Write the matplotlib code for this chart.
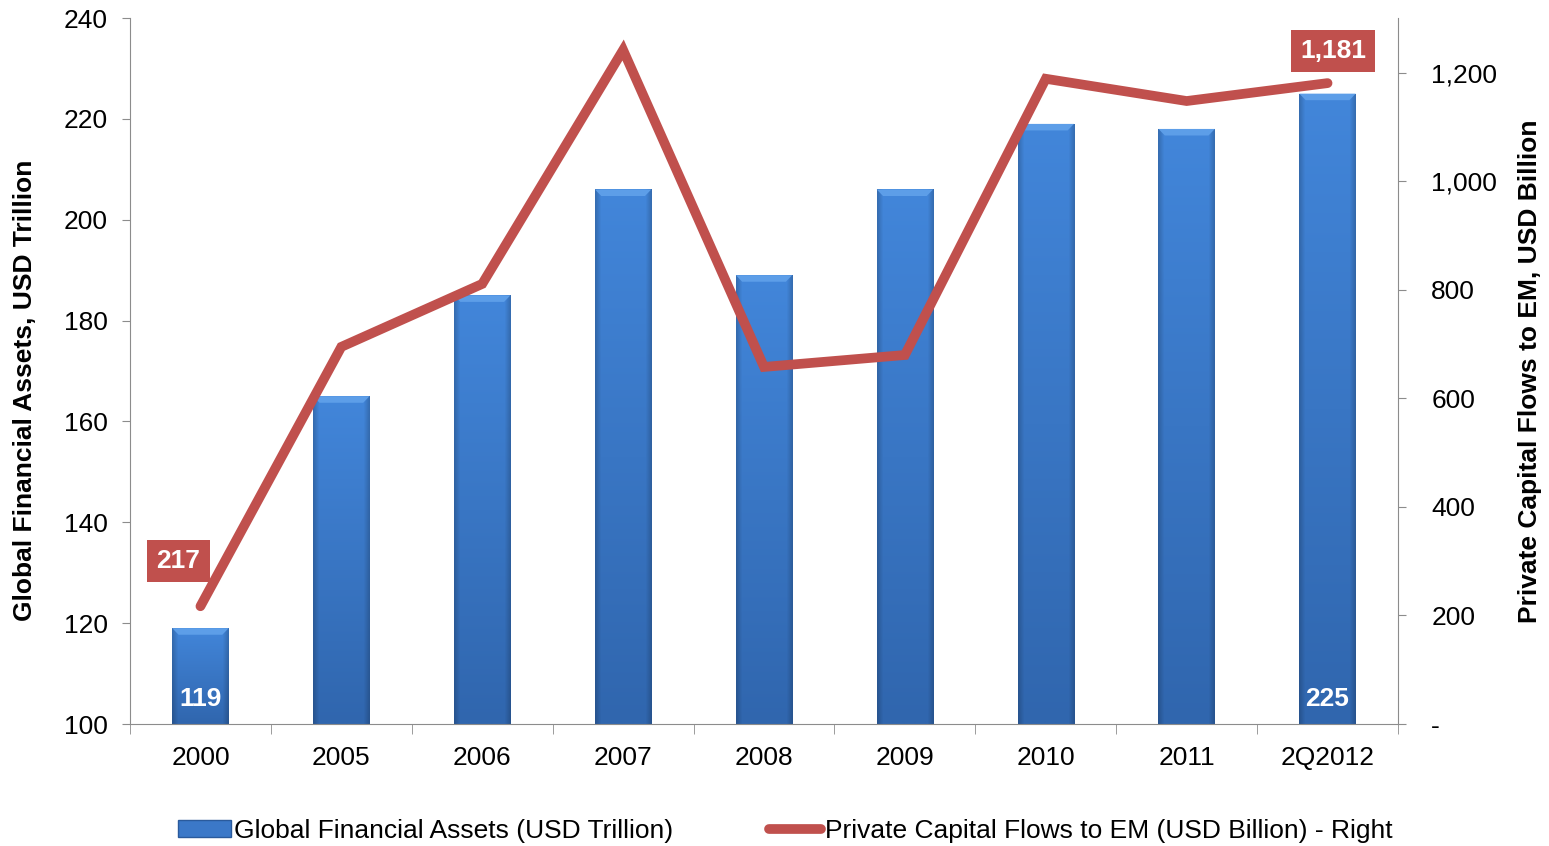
import numpy as np
import matplotlib
matplotlib.use("Agg")
import matplotlib.pyplot as plt
from matplotlib.patches import Rectangle, Polygon
from matplotlib.lines import Line2D
from matplotlib.ticker import FuncFormatter, FixedLocator

plt.rcParams['font.family'] = ['Liberation Sans', 'DejaVu Sans']

# Données
categories = ['2000', '2005', '2006', '2007', '2008', '2009', '2010', '2011', '2Q2012']
assets = [119, 165, 185, 206, 189, 206, 219, 218, 225]          # USD Trillion (gauche)
flows = [217, 695, 811, 1242, 658, 680, 1189, 1148, 1181]       # USD Billion (droite)

red = '#c0504d'
fs = 19
x = np.arange(len(categories))
w = 0.4

fig = plt.figure(figsize=(15.49, 8.46), dpi=100)
ax = fig.add_axes([130/1549, 1-724/846, (1398-130)/1549, (724-18)/846])
ax2 = ax.twinx()

# dégradé des barres (RGB)
top_c = np.array([0x42, 0x86, 0xda]) / 255
bot_c = np.array([0x30, 0x66, 0xae]) / 255
ny, nx = 100, 40
tv = np.linspace(0, 1, ny)[:, None]           # 0 bas -> 1 haut
col = top_c * tv[..., None] + bot_c * (1 - tv[..., None])
u = np.linspace(0, 1, nx)
edge = np.clip(1 - np.minimum(u, 1 - u) / 0.1, 0, 1) * 0.18
img = col * (1 - edge[None, :, None])

for xi, v in zip(x, assets):
    r = Rectangle((xi-w/2, 100), w, v-100, facecolor='#3b78c8', edgecolor='none', zorder=2)
    ax.add_patch(r)
    im = ax.imshow(img, aspect='auto', extent=(xi-w/2, xi+w/2, 100, v), origin='lower',
                   zorder=2.1, interpolation='bilinear')
    im.set_clip_path(r)
    # biseau du haut
    bx, by = 0.045, 1.3
    ax.add_patch(Polygon([(xi-w/2, v), (xi+w/2, v), (xi+w/2-bx, v-by), (xi-w/2+bx, v-by)],
                         closed=True, facecolor='#5d9ee8', edgecolor='none', zorder=2.2))
ax.set_xlim(-0.5, len(categories)-0.5)
ax.set_ylim(100, 240)
ax2.set_ylim(0, 1301)

ax.text(x[0], 105, f'{assets[0]}', color='white', fontsize=fs, fontweight='bold',
        ha='center', va='center', zorder=5)
ax.text(x[-1], 105, f'{assets[-1]}', color='white', fontsize=fs, fontweight='bold',
        ha='center', va='center', zorder=5)

# Courbe
ax2.plot(x, flows, color=red, lw=7, solid_capstyle='round', solid_joinstyle='miter', zorder=3)
ax2.text(x[0]-0.156, flows[0]+83, f'{flows[0]:,}', color='white', fontsize=fs, fontweight='bold',
         ha='center', va='center',
         bbox=dict(boxstyle='square,pad=0.35', fc=red, ec='none'))
ax2.text(x[-1]+0.04, flows[-1]+59, f'{flows[-1]:,}', color='white', fontsize=fs, fontweight='bold',
         ha='center', va='center',
         bbox=dict(boxstyle='square,pad=0.35', fc=red, ec='none'))

# Axes
grey = '#8c8c8c'
for a in (ax, ax2):
    for s in a.spines.values():
        s.set_color(grey)
    a.spines['top'].set_visible(False)
ax.spines['right'].set_visible(False)
ax2.spines['left'].set_visible(False)
ax2.spines['bottom'].set_visible(False)

ax.set_yticks(np.arange(100, 241, 20))
ax.tick_params(axis='y', colors=grey, labelcolor='black', labelsize=fs, length=6, pad=10)
ax.set_xticks(x)
ax.set_xticklabels(categories)
ax.tick_params(axis='x', which='major', length=0, labelsize=fs, pad=16)
ax.xaxis.set_minor_locator(FixedLocator(np.arange(-0.5, len(categories), 1)))
ax.tick_params(axis='x', which='minor', length=7, color=grey)

ax2.set_yticks(np.arange(0, 1201, 200))
ax2.yaxis.set_major_formatter(FuncFormatter(lambda v, p: '-' if v == 0 else f'{int(v):,}'))
ax2.tick_params(axis='y', colors=grey, labelcolor='black', labelsize=fs, length=6, pad=18)

ax.set_ylabel('Global Financial Assets, USD Trillion', fontsize=fs, fontweight='bold')
ax.yaxis.set_label_coords(-0.073, 0.472)
ax2.set_ylabel('Private Capital Flows to EM, USD Billion', fontsize=fs, fontweight='bold', labelpad=15)

# Légende
h1 = Rectangle((0, 0), 1, 1, facecolor='#3b78c8', edgecolor='#2a5a9c')
h2 = Line2D([], [], color=red, lw=7, solid_capstyle='round')
fig.legend([h1, h2], ['Global Financial Assets (USD Trillion)', 'Private Capital Flows to EM (USD Billion) - Right'],
           loc='center', bbox_to_anchor=(0.507, 0.018), ncol=2, frameon=False, fontsize=fs,
           handlelength=2.0, handleheight=0.6, handletextpad=0.15, columnspacing=3.6)

fig.savefig('out.png', dpi=100)
